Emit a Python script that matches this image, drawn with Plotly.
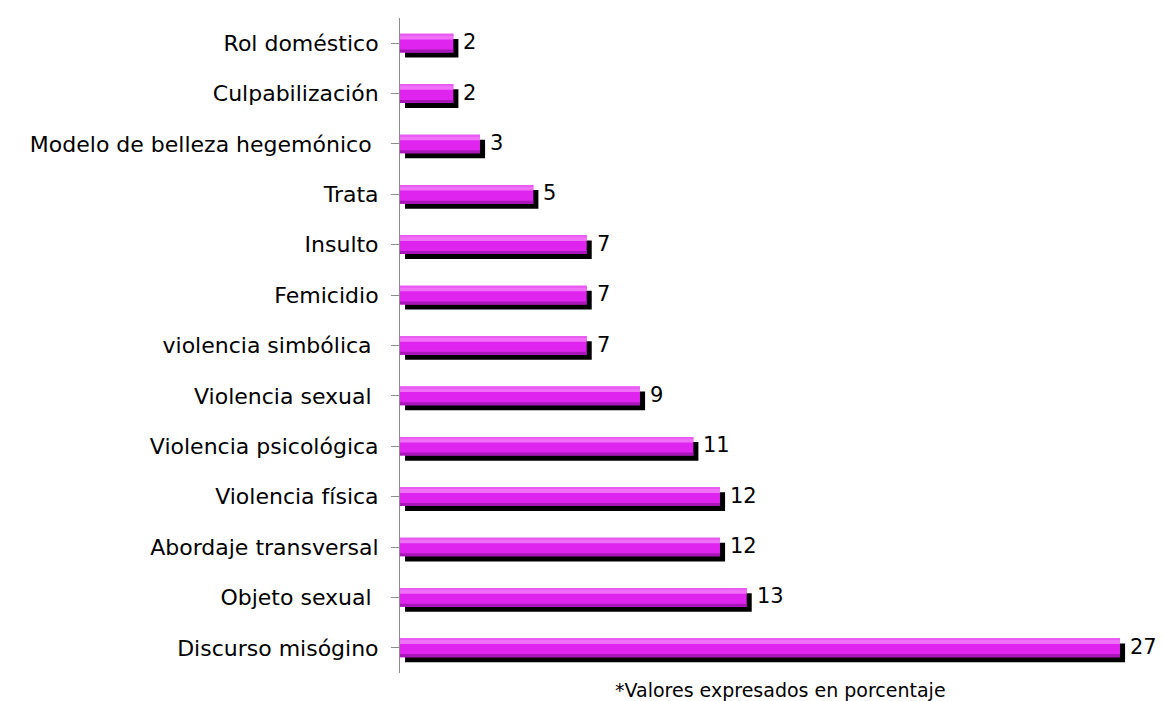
import plotly.graph_objects as go

# Data (bottom to top)
categories = [
    "Discurso misógino",
    "Objeto sexual ",
    "Abordaje transversal",
    "Violencia física",
    "Violencia psicológica",
    "Violencia sexual ",
    "violencia simbólica ",
    "Femicidio",
    "Insulto",
    "Trata",
    "Modelo de belleza hegemónico ",
    "Culpabilización",
    "Rol doméstico",
]
values = [27, 13, 12, 12, 11, 9, 7, 7, 7, 5, 3, 2, 2]
footnote = "*Valores expresados en porcentaje"

FONT = "DejaVu Sans"
pos = list(range(len(categories)))
ticktext = [c.rstrip() + ("\u00a0" if c.endswith(" ") else "") for c in categories]

BW = 0.37
DX = 0.19
DY = 0.10

fig = go.Figure()
# shadow
fig.add_trace(go.Bar(
    y=pos, x=values, base=[DX] * len(values), orientation="h",
    width=BW, offset=-BW / 2 - DY, marker=dict(color="#000000", line_width=0),
    hoverinfo="skip", showlegend=False))
# main bar
fig.add_trace(go.Bar(
    y=pos, x=values, orientation="h",
    width=BW, offset=-BW / 2, marker=dict(color="#e024f0", line_width=0),
    showlegend=False))
# top highlight
fig.add_trace(go.Bar(
    y=pos, x=values, orientation="h",
    width=0.08, offset=BW / 2 - 0.11, marker=dict(color="#f070f8", line_width=0),
    hoverinfo="skip", showlegend=False))
fig.add_trace(go.Bar(
    y=pos, x=values, orientation="h",
    width=0.03, offset=BW / 2 - 0.03, marker=dict(color="#e85cf2", line_width=0),
    hoverinfo="skip", showlegend=False))
# bottom dark band
fig.add_trace(go.Bar(
    y=pos, x=values, orientation="h",
    width=0.06, offset=-BW / 2, marker=dict(color="#a818b8", line_width=0),
    hoverinfo="skip", showlegend=False))

annotations = []
for p, v in zip(pos, values):
    annotations.append(dict(
        x=v + DX, y=p, xref="x", yref="y", text=str(v), showarrow=False,
        xanchor="left", yanchor="middle", xshift=3, yshift=1,
        font=dict(family=FONT, size=21, color="#000000")))
annotations.append(dict(
    x=0.5, y=-0.026, xref="paper", yref="paper", text=footnote, showarrow=False,
    xanchor="center", yanchor="middle",
    font=dict(family=FONT, size=19, color="#000000")))

# page body has an 8px default margin, so the figure is sized to fit inside it
fig.update_layout(
    barmode="overlay",
    width=1155, height=693,
    margin=dict(l=392, r=3, t=10, b=28),
    paper_bgcolor="white", plot_bgcolor="white",
    font=dict(family=FONT, size=22, color="#000000"),
    annotations=annotations,
    xaxis=dict(range=[0, 28.5], visible=False, fixedrange=True, automargin=False),
    yaxis=dict(
        tickmode="array", tickvals=pos, ticktext=ticktext,
        range=[-0.5, len(pos) - 0.5],
        showline=True, linecolor="#8c8c8c", linewidth=1,
        ticks="outside", tickson="boundaries", ticklen=8, tickcolor="#8c8c8c",
        ticklabelstandoff=8,
        showgrid=False, zeroline=False, automargin=False,
        tickfont=dict(family=FONT, size=22, color="#000000"),
    ),
)

fig.write_html("out.html")
